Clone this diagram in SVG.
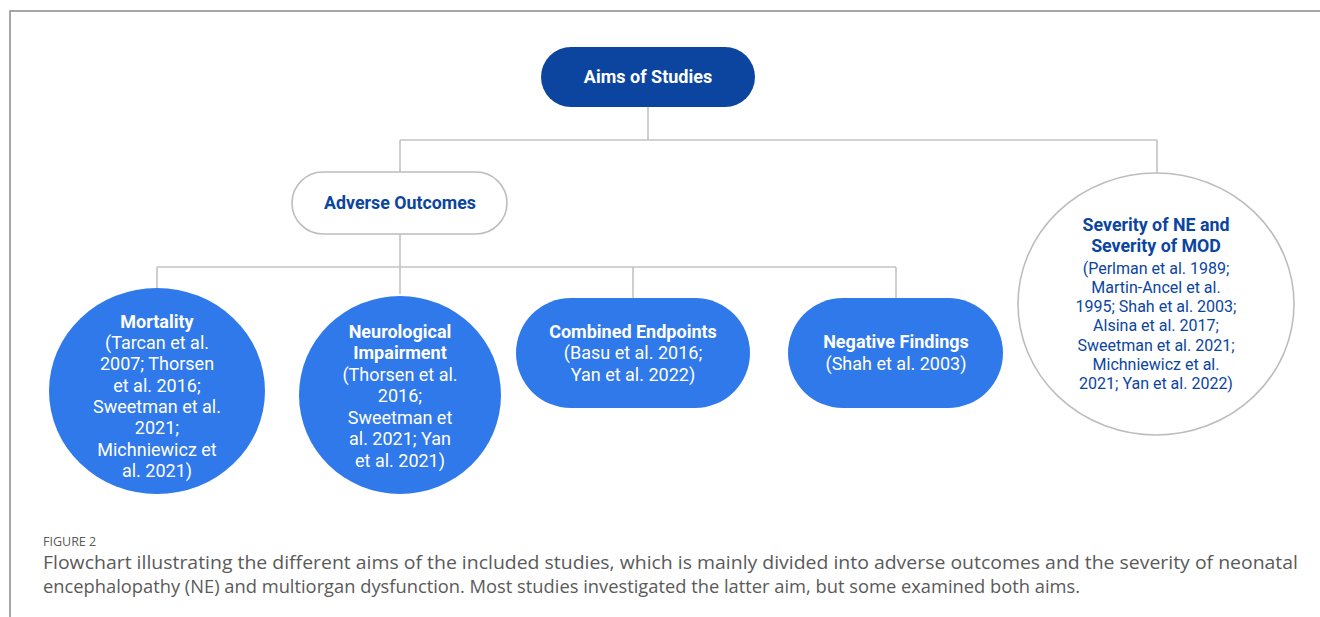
<svg xmlns="http://www.w3.org/2000/svg" width="1320" height="617" viewBox="0 0 1320 617">
<style>
.bg{fill:#fff}
.frame{stroke:#8a8a8a;stroke-width:1.5;fill:none}
.conn{stroke:#c4c4c4;stroke-width:1.6;fill:none}
.dark{fill:#0b45a0}
.blue{fill:#3079ea}
.outline{fill:#fff;stroke:#bdbdbd;stroke-width:1.6}
text{font-family:Roboto,"Liberation Sans",sans-serif;text-anchor:middle}
.tw{fill:#fff;font-size:18px}
.tb{font-weight:bold}
.td{fill:#0b45a0}
.cap{font-family:"Open Sans","Noto Sans",sans-serif;fill:#5a5a5a;text-anchor:start}
</style>
<rect class="bg" width="1320" height="617"/>
<path class="frame" d="M10,617 V11 H1320"/>
<g id="connectors">
<path class="conn" d="M648,107 V140 M400,140 H1157 M400,140 V172 M1157,140 V173"/>
<path class="conn" d="M400,234 V267 M157,267 H896 M157,267 V289 M400,267 V294 M633,267 V298 M896,267 V298"/>
</g>
<g id="aims">
<rect class="dark" x="541" y="47" width="214" height="60" rx="30"/>
<text class="tw tb" x="648" y="83" font-size="17.8">Aims of Studies</text>
</g>
<g id="adverse">
<rect class="outline" x="292" y="172" width="215" height="62" rx="31"/>
<text class="td tb" x="400" y="209" font-size="17.8">Adverse Outcomes</text>
</g>
<g id="mortality">
<ellipse class="blue" cx="157" cy="391" rx="108" ry="103"/>
<text class="tw" x="157"><tspan class="tb" x="157" y="328">Mortality</tspan><tspan x="157" y="349">(Tarcan et al.</tspan><tspan x="157" y="370">2007; Thorsen</tspan><tspan x="157" y="392">et al. 2016;</tspan><tspan x="157" y="413">Sweetman et al.</tspan><tspan x="157" y="434">2021;</tspan><tspan x="157" y="456">Michniewicz et</tspan><tspan x="157" y="477">al. 2021)</tspan></text>
</g>
<g id="neuro">
<ellipse class="blue" cx="400" cy="395" rx="101" ry="99"/>
<text class="tw" x="400"><tspan class="tb" x="400" y="338">Neurological</tspan><tspan class="tb" x="400" y="359">Impairment</tspan><tspan x="400" y="381">(Thorsen et al.</tspan><tspan x="400" y="402">2016;</tspan><tspan x="400" y="424">Sweetman et</tspan><tspan x="400" y="445">al. 2021; Yan</tspan><tspan x="400" y="467">et al. 2021)</tspan></text>
</g>
<g id="combined">
<rect class="blue" x="516" y="298" width="234" height="110" rx="55"/>
<text class="tw" x="633"><tspan class="tb" x="633" y="338">Combined Endpoints</tspan><tspan x="633" y="359">(Basu et al. 2016;</tspan><tspan x="633" y="381">Yan et al. 2022)</tspan></text>
</g>
<g id="negative">
<rect class="blue" x="788" y="298" width="215" height="110" rx="55"/>
<text class="tw" x="896"><tspan class="tb" x="896" y="348">Negative Findings</tspan><tspan x="896" y="370">(Shah et al. 2003)</tspan></text>
</g>
<g id="severity">
<ellipse class="outline" cx="1156" cy="304" rx="138" ry="131"/>
<text class="td" font-size="16" x="1156"><tspan class="tb" font-size="17.8" x="1156" y="231">Severity of NE and</tspan><tspan class="tb" font-size="17.8" x="1156" y="252">Severity of MOD</tspan><tspan x="1156" y="274">(Perlman et al. 1989;</tspan><tspan x="1156" y="293">Martin-Ancel et al.</tspan><tspan x="1156" y="312">1995; Shah et al. 2003;</tspan><tspan x="1156" y="331">Alsina et al. 2017;</tspan><tspan x="1156" y="351">Sweetman et al. 2021;</tspan><tspan x="1156" y="370">Michniewicz et al.</tspan><tspan x="1156" y="389">2021; Yan et al. 2022)</tspan></text>
</g>
<text class="cap" x="43" y="546" font-size="12.5">FIGURE 2</text>
<text class="cap" x="43" y="569" font-size="18" textLength="1255" lengthAdjust="spacingAndGlyphs">Flowchart illustrating the different aims of the included studies, which is mainly divided into adverse outcomes and the severity of neonatal</text>
<text class="cap" x="43" y="593" font-size="18" textLength="1037" lengthAdjust="spacingAndGlyphs">encephalopathy (NE) and multiorgan dysfunction. Most studies investigated the latter aim, but some examined both aims.</text>
</svg>
